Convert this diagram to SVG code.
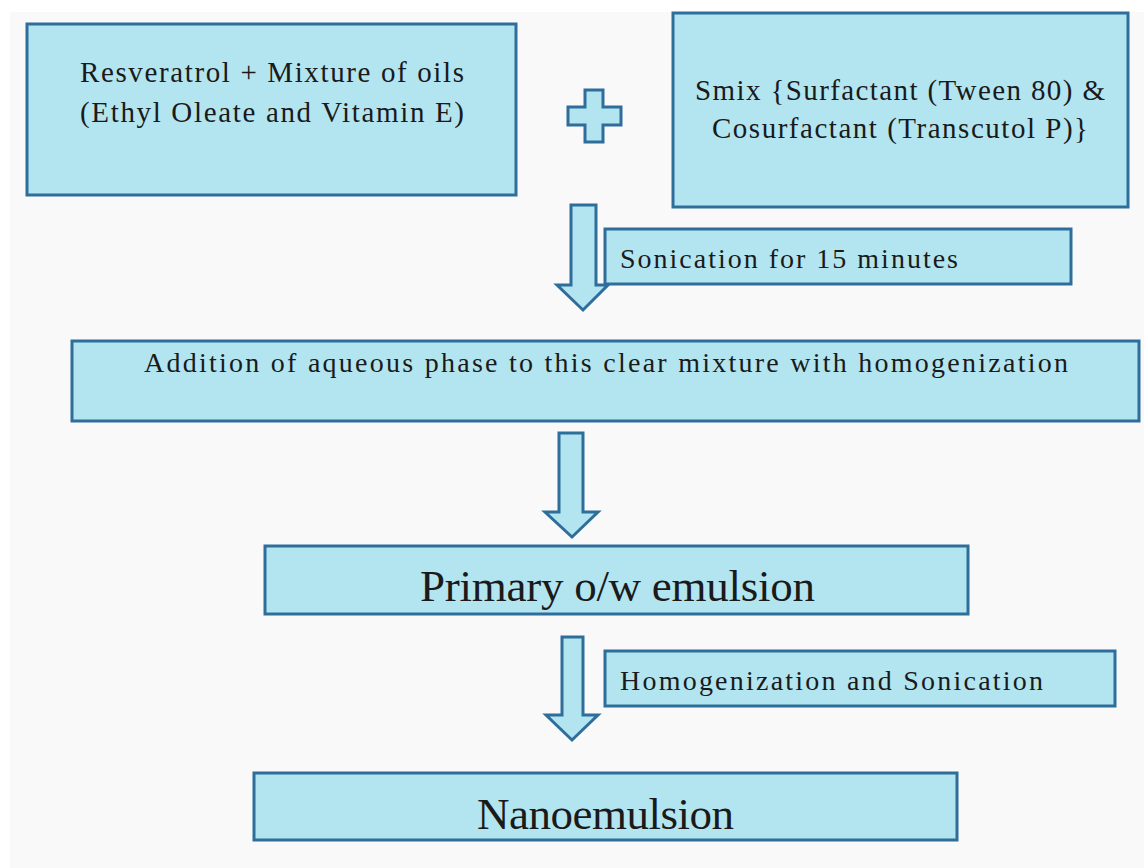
<svg xmlns="http://www.w3.org/2000/svg" width="1144" height="868" viewBox="0 0 1144 868">
<defs>
<style>
.box{fill:#b3e5f0;stroke:#2f6e9b;stroke-width:3}
.arr{fill:#b3e5f0;stroke:#2f6e9b;stroke-width:3;stroke-linejoin:miter}
.t{font-family:"Liberation Serif","DejaVu Serif",serif;fill:#1a1a1a;font-size:29px}
.s{font-size:28px}
.b{font-size:45px}
</style>
</defs>
<rect x="0" y="0" width="1144" height="868" fill="#ffffff"/>
<rect x="10" y="12" width="1134" height="856" fill="#f9f9f9"/>
<g id="connectors">
<path class="arr" d="M571,205 H596 V285 H608 L583,310 L557,285 H571 Z"/>
<path class="arr" d="M559,433 H583 V512 H598 L572,537 L545,512 H559 Z"/>
<path class="arr" d="M562,637 H583 V715 H598 L572,740 L546,715 H562 Z"/>
</g>
<g id="plus">
<path class="arr" d="M585,90 H603 V107 H621 V125 H603 V142 H585 V125 H568 V107 H585 Z"/>
</g>
<g id="node-oils">
<rect class="box" x="27" y="24" width="489" height="171"/>
<text class="t" x="80" y="82" textLength="384" lengthAdjust="spacing">Resveratrol + Mixture of oils</text>
<text class="t" x="80" y="122" textLength="384" lengthAdjust="spacing">(Ethyl Oleate and Vitamin E)</text>
</g>
<g id="node-smix">
<rect class="box" x="673" y="13" width="455" height="194"/>
<text class="t" x="695" y="100" textLength="410" lengthAdjust="spacing">Smix {Surfactant (Tween 80) &amp;</text>
<text class="t" x="712" y="138" textLength="376" lengthAdjust="spacing">Cosurfactant (Transcutol P)}</text>
</g>
<g id="node-sonication">
<rect class="box" x="605" y="229" width="466" height="55"/>
<text class="t s" x="620" y="268" textLength="338" lengthAdjust="spacing">Sonication for 15 minutes</text>
</g>
<g id="node-addition">
<rect class="box" x="72" y="341" width="1067" height="80"/>
<text class="t s" x="144" y="372" textLength="924" lengthAdjust="spacing">Addition of aqueous phase  to this clear mixture with homogenization</text>
</g>
<g id="node-primary">
<rect class="box" x="265" y="546" width="703" height="68"/>
<text class="t b" x="420" y="601" textLength="395" lengthAdjust="spacing">Primary o/w emulsion</text>
</g>
<g id="node-homog">
<rect class="box" x="605" y="651" width="510" height="55"/>
<text class="t s" x="620" y="690" textLength="423" lengthAdjust="spacing">Homogenization and Sonication</text>
</g>
<g id="node-nano">
<rect class="box" x="254" y="773" width="703" height="67"/>
<text class="t b" x="477" y="829" textLength="257" lengthAdjust="spacing">Nanoemulsion</text>
</g>
</svg>
